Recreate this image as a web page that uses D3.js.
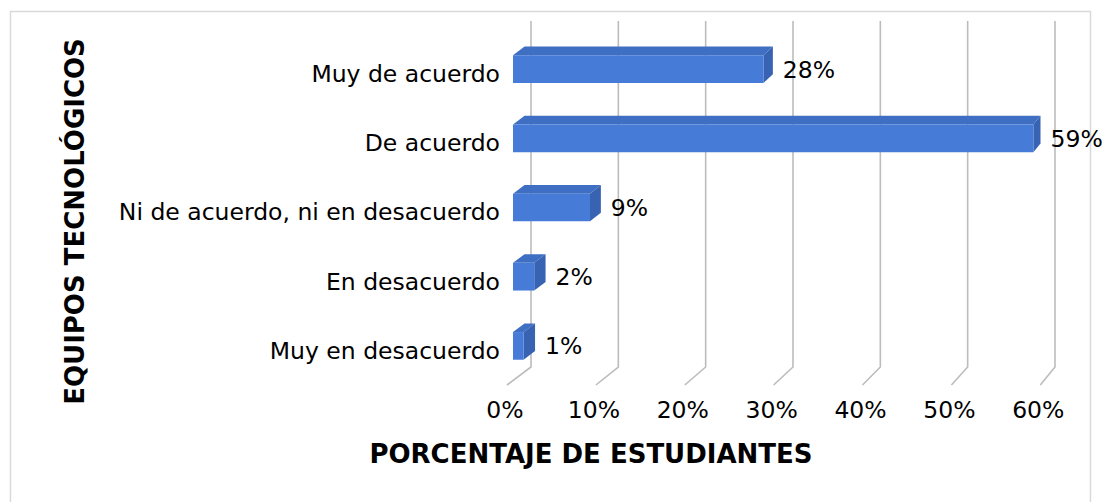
<!DOCTYPE html>
<html><head><meta charset="utf-8">
<script src="https://cdn.jsdelivr.net/npm/d3@7"></script>
<style>html,body{margin:0;padding:0;background:#fff;}svg{display:block;font-family:"DejaVu Sans",sans-serif;}</style>
</head><body><svg id="c" width="1107" height="502"></svg>
<script>
const categories = ["Muy de acuerdo","De acuerdo","Ni de acuerdo, ni en desacuerdo","En desacuerdo","Muy en desacuerdo"];
const values = [0.283, 0.588, 0.087, 0.024, 0.012];
const valueLabels = ["28%","59%","9%","2%","1%"];
const tickValues = [0,0.1,0.2,0.3,0.4,0.5,0.6];
const xTitle = "PORCENTAJE DE ESTUDIANTES";
const yTitle = "EQUIPOS TECNOLÓGICOS";

const svg = d3.select("#c");
const H = 502;
svg.append("rect").attr("x",10.5).attr("y",11.5).attr("width",1080).attr("height",H).attr("fill","#fff").attr("stroke","#d9d9d9").attr("stroke-width",1.5);

// back plane scales
const x = d3.scaleLinear().domain([0,0.6]).range([531,1055]);
const y = d3.scaleBand().domain(categories).range([21,367]).paddingInner(0.6).paddingOuter(0.3);
const DX = -24, DY = 18, PERS = 9.3;
// projection: v value, yy back-plane y, z depth (0 back, 1 front)
function P(v, yy, z){ return [x(0) + DX*z + (x(v)-x(0))*(1+PERS*z/(x(0.6)-x(0))), yy + DY*z]; }

const grid = svg.append("g");
tickValues.forEach(t=>{
  const a = P(t,21,0), b = P(t,367,0), c = P(t,367,1);
  grid.append("path").attr("d",`M${a[0]},${a[1]}L${b[0]},${b[1]}L${c[0]},${c[1]}`)
    .attr("fill","none").attr("stroke","#bcbcbc").attr("stroke-width",1.6);
});

const zF = 0.75, zB = 0.27;
const bars = svg.append("g");
const FS = 23.5;
categories.forEach((cat,i)=>{
  const v = values[i], y0 = y(cat), y1 = y(cat)+y.bandwidth();
  const f0=P(0,y0,zF), f1=P(v,y0,zF), f2=P(v,y1,zF), f3=P(0,y1,zF);
  const b0=P(0,y0,zB), b1=P(v,y0,zB), b2=P(v,y1,zB);
  const poly = pts => "M"+pts.map(p=>p.join(",")).join("L")+"Z";
  bars.append("path").attr("d",poly([f0,b0,b1,f1])).attr("fill","#3f6fc2");
  bars.append("path").attr("d",poly([f1,b1,b2,f2])).attr("fill","#3862b2");
  bars.append("path").attr("d",poly([f0,f1,f2,f3])).attr("fill","#477bd8");
  svg.append("text").attr("x",b1[0]+10).attr("y",(f0[1]+f3[1])/2).attr("dy","0.36em")
    .attr("font-size",FS).attr("fill","#000").text(valueLabels[i]);
  const yc = y(cat)+y.bandwidth()/2 + DY;
  svg.append("text").attr("x",500).attr("y",yc).attr("dy","0.36em")
    .attr("text-anchor","end").attr("font-size",FS).attr("fill","#000").text(cat);
});

tickValues.forEach(t=>{
  const c = P(t,367,1);
  svg.append("text").attr("x",c[0]-2).attr("y",418).attr("text-anchor","middle")
    .attr("font-size",FS).attr("fill","#000").text(d3.format(".0%")(t));
});

svg.append("text").attr("x",591).attr("y",463).attr("text-anchor","middle")
  .attr("font-size",26).attr("font-weight","bold").attr("fill","#000").text(xTitle);
svg.append("text").attr("transform","translate(84,221.5) rotate(-90)").attr("text-anchor","middle")
  .attr("font-size",26).attr("font-weight","bold").attr("fill","#000").text(yTitle);
</script></body></html>
